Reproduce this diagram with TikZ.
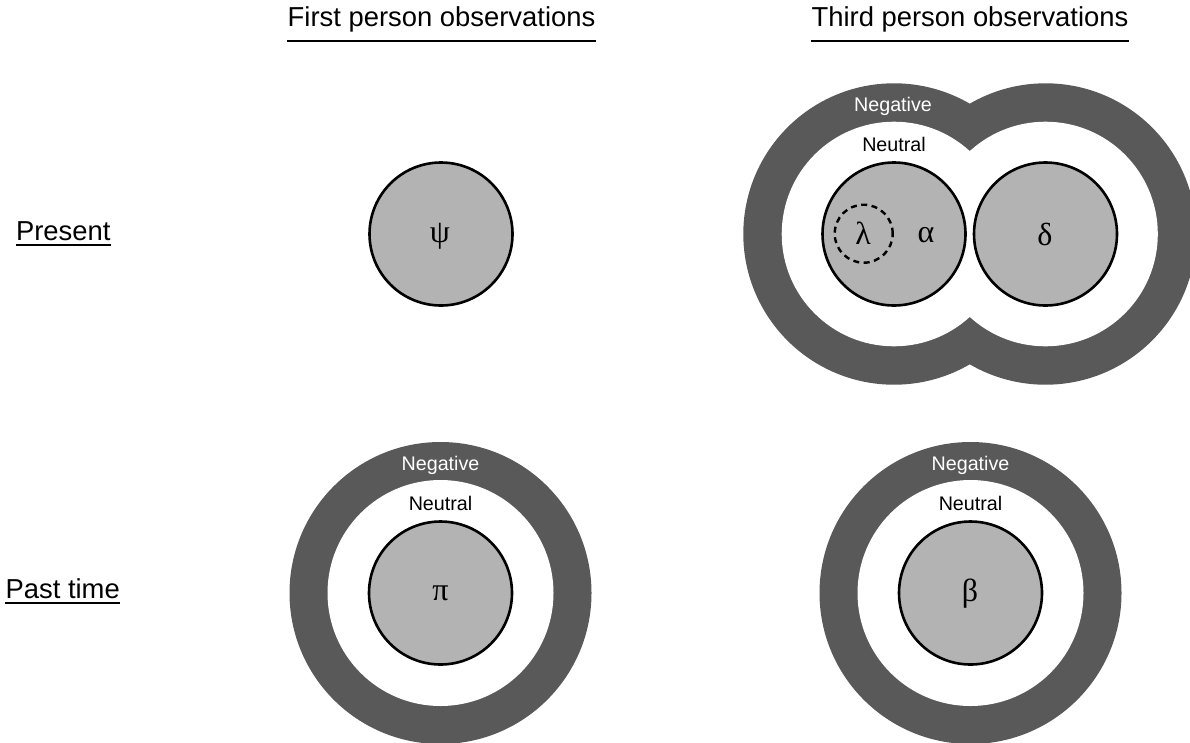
\documentclass[tikz,border=0pt]{standalone}
\usepackage{fontspec}
\setmainfont{Liberation Sans}
\newfontfamily\greekfont{Liberation Serif}
\definecolor{bandgray}{RGB}{89,89,89}
\definecolor{discgray}{RGB}{179,179,179}

\begin{document}
\begin{tikzpicture}[x=1pt,y=-1pt,
  heading/.style={anchor=base,inner sep=0pt,font=\fontsize{27.4}{30}\selectfont},
  ringlabel/.style={anchor=base,inner sep=0pt,font=\fontsize{19.7}{22}\selectfont},
  disc/.style={circle,draw=black,line width=2.6pt,fill=discgray,inner sep=0pt,minimum size=143pt},
  subset/.style={circle,draw=black,line width=2.4pt,dash pattern=on 6pt off 4.5pt,inner sep=0pt,minimum size=58pt},
  greek/.style={anchor=base,inner sep=0pt,font=\greekfont\fontsize{32}{34}\selectfont},
  headrule/.style={line width=1.8pt},
  band/.style={fill=bandgray},
  gap/.style={fill=white}]

\useasboundingbox (0,0) rectangle (1190,742);

% centres of the discs
\coordinate (cpsi)   at (441,234);
\coordinate (calpha) at (894,234);
\coordinate (cdelta) at (1045.5,234);
\coordinate (cpi)    at (440.5,593);
\coordinate (cbeta)  at (970.5,593);

% negative / neutral rings
\fill[band] (calpha) circle[radius=150.7pt] (cdelta) circle[radius=150.7pt];
\fill[gap]  (calpha) circle[radius=112.3pt] (cdelta) circle[radius=112.3pt];
\fill[band] (cpi) circle[radius=151pt];
\fill[gap]  (cpi) circle[radius=113pt];
\fill[band] (cbeta) circle[radius=151pt];
\fill[gap]  (cbeta) circle[radius=113pt];

% discs
\node[disc] (dpsi)   at (cpsi) {};
\node[disc] (dalpha) at (calpha) {};
\node[disc] (ddelta) at (cdelta) {};
\node[disc] (dpi)    at (cpi) {};
\node[disc] (dbeta)  at (cbeta) {};
\node[subset] (dlambda) at (863.7,233.7) {};

% symbols
\node[greek] (lpsi)    at (440,242) {ψ};
\node[greek] (llambda) at (863,244.5) {λ};
\node[greek] (lalpha)  at (926,242.5) {α};
\node[greek] (ldelta)  at (1045,245) {δ};
\node[greek] (lpi)     at (440.5,600) {π};
\node[greek] (lbeta)   at (970,601) {β};

% ring labels
\node[ringlabel,text=white] (negA) at (893,111) {Negative};
\node[ringlabel] (neuA) at (894,151) {Neutral};
\node[ringlabel,text=white] (negB) at (440.5,470) {Negative};
\node[ringlabel] (neuB) at (440.5,510) {Neutral};
\node[ringlabel,text=white] (negC) at (970.5,470) {Negative};
\node[ringlabel] (neuC) at (970.5,510) {Neutral};

% column and row headings
\node[heading] (hfirst) at (441.5,26.7) {First person observations};
\node[heading] (hthird) at (970,26.7) {Third person observations};
\node[heading] (hpresent) at (63.3,240) {Present};
\node[heading] (hpast) at (62.7,598.3) {Past time};

\draw[headrule] ([yshift=-14pt]hfirst.base west) -- ([yshift=-14pt]hfirst.base east);
\draw[headrule] ([yshift=-14pt]hthird.base west) -- ([yshift=-14pt]hthird.base east);
\draw[headrule] ([yshift=-4.6pt]hpresent.base west) -- ([yshift=-4.6pt]hpresent.base east);
\draw[headrule] ([yshift=-4.6pt]hpast.base west) -- ([yshift=-4.6pt]hpast.base east);
\end{tikzpicture}
\end{document}
